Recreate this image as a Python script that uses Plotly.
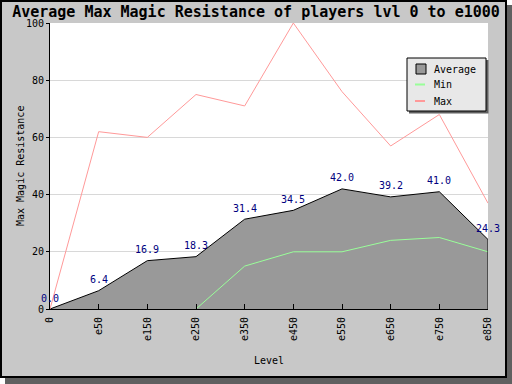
import plotly.graph_objects as go

levels = ["0", "e50", "e150", "e250", "e350", "e450", "e550", "e650", "e750", "e850"]
avg_vals = [0.0, 6.4, 16.9, 18.3, 31.4, 34.5, 42.0, 39.2, 41.0, 24.3]
min_vals = [None, None, None, 0, 15, 20, 20, 24, 25, 20]
max_vals = [0, 62, 60, 75, 71, 100, 76, 57, 68, 37]
series_names = ["Average", "Min", "Max"]
series_colors = ["#999999", "#99ff99", "#ff9999"]

FONT = "DejaVu Sans Mono"
W, H = 512, 384
ML, MR, MT, MB = 50, 24, 23, 75
PW, PH = W - ML - MR, H - MT - MB


def px(x):
    return (x - ML) / PW


def py(y):
    return (H - MB - y) / PH


xs = list(range(len(levels)))

fig = go.Figure()
fig.add_trace(go.Scatter(
    x=xs, y=avg_vals, name=series_names[0], mode="lines",
    fill="tozeroy", fillcolor=series_colors[0],
    line=dict(color="black", width=1),
))
fig.add_trace(go.Scatter(
    x=xs, y=min_vals, name=series_names[1], mode="lines",
    line=dict(color=series_colors[1], width=1),
))
fig.add_trace(go.Scatter(
    x=xs, y=max_vals, name=series_names[2], mode="lines",
    line=dict(color=series_colors[2], width=1),
))


def prect(x0, x1, y0, y1, fill, line_color=None, lw=0):
    return dict(type="rect", xref="paper", yref="paper",
                x0=px(x0), x1=px(x1), y0=py(y0), y1=py(y1),
                fillcolor=fill,
                line=dict(color=line_color or "rgba(0,0,0,0)", width=lw),
                layer="above")


shapes = [
    # outer frame shadow and border
    prect(507, 513, 5, 385, "#606060"),
    prect(5, 513, 378, 385, "#606060"),
    prect(507, 513, -1, 5, "white"),
    prect(-1, 5, 378, 385, "white"),
    prect(1, 506, 1, 377, "rgba(0,0,0,0)", "black", 2),
    # closing edge of the area at the last category
    dict(type="line", xref="x", yref="y", x0=xs[-1], x1=xs[-1], y0=0, y1=avg_vals[-1],
         line=dict(color="black", width=1), layer="above"),
    # legend box with shadow
    prect(409, 488.5, 60, 113.5, "#606060"),
    prect(407, 486, 58, 111, "#e8e8e8", "black", 1),
    # legend keys
    prect(416, 426, 64, 74, series_colors[0], "black", 1),
    dict(type="line", xref="paper", yref="paper", x0=px(415), x1=px(425), y0=py(84.5), y1=py(84.5),
         line=dict(color=series_colors[1], width=2), layer="above"),
    dict(type="line", xref="paper", yref="paper", x0=px(415), x1=px(425), y0=py(101), y1=py(101),
         line=dict(color=series_colors[2], width=2), layer="above"),
]

annotations = [
    dict(text="Level", x=0.5, y=py(360), xref="paper", yref="paper", showarrow=False,
         font=dict(family=FONT, size=10, color="black"), xanchor="center", yanchor="middle"),
    dict(text="Max Magic Resistance", x=px(20), y=0.5, xref="paper", yref="paper", showarrow=False,
         textangle=-90, font=dict(family=FONT, size=10, color="black"), xanchor="center", yanchor="middle"),
]
for name, ycen in zip(series_names, [69, 84.5, 101]):
    annotations.append(dict(text=name, x=px(432), y=py(ycen), xref="paper", yref="paper",
                            showarrow=False, xanchor="left", yanchor="middle",
                            font=dict(family=FONT, size=10, color="black")))
for xi, v in zip(xs, avg_vals):
    annotations.append(dict(text=f"{v:.1f}", x=xi, y=v, xref="x", yref="y", showarrow=False,
                            xanchor="center", yanchor="middle", yshift=11,
                            font=dict(family=FONT, size=10, color="#000080")))

fig.update_layout(
    width=W, height=H,
    margin=dict(l=ML, r=MR, t=MT, b=MB, pad=0),
    paper_bgcolor="#c8c8c8", plot_bgcolor="white",
    title=dict(text="Average Max Magic Resistance of players lvl 0 to e1000",
               x=0.5, xref="container", xanchor="center",
               y=1 - 11.5 / H, yref="container", yanchor="middle",
               font=dict(family=FONT, size=15, color="black", weight="bold")),
    font=dict(family=FONT, size=10, color="black"),
    showlegend=False,
    xaxis=dict(tickmode="array", tickvals=xs, ticktext=levels, range=[0, len(levels) - 1],
               tickangle=-90, ticks="inside", ticklen=5, tickcolor="black",
               ticklabelstandoff=3,
               showline=True, linecolor="black", linewidth=1, showgrid=False,
               zeroline=False, fixedrange=True),
    yaxis=dict(range=[0, 100], tickvals=[0, 20, 40, 60, 80, 100], ticks="outside", ticklen=3,
               tickcolor="black", showline=True, linecolor="black", linewidth=1,
               showgrid=True, gridcolor="#d8d8d8", gridwidth=1, zeroline=False,
               fixedrange=True),
    shapes=shapes,
    annotations=annotations,
)

fig.write_html("out.html", config={"displayModeBar": False},
               post_script="document.body.style.margin='0px';document.body.style.padding='0px';")
